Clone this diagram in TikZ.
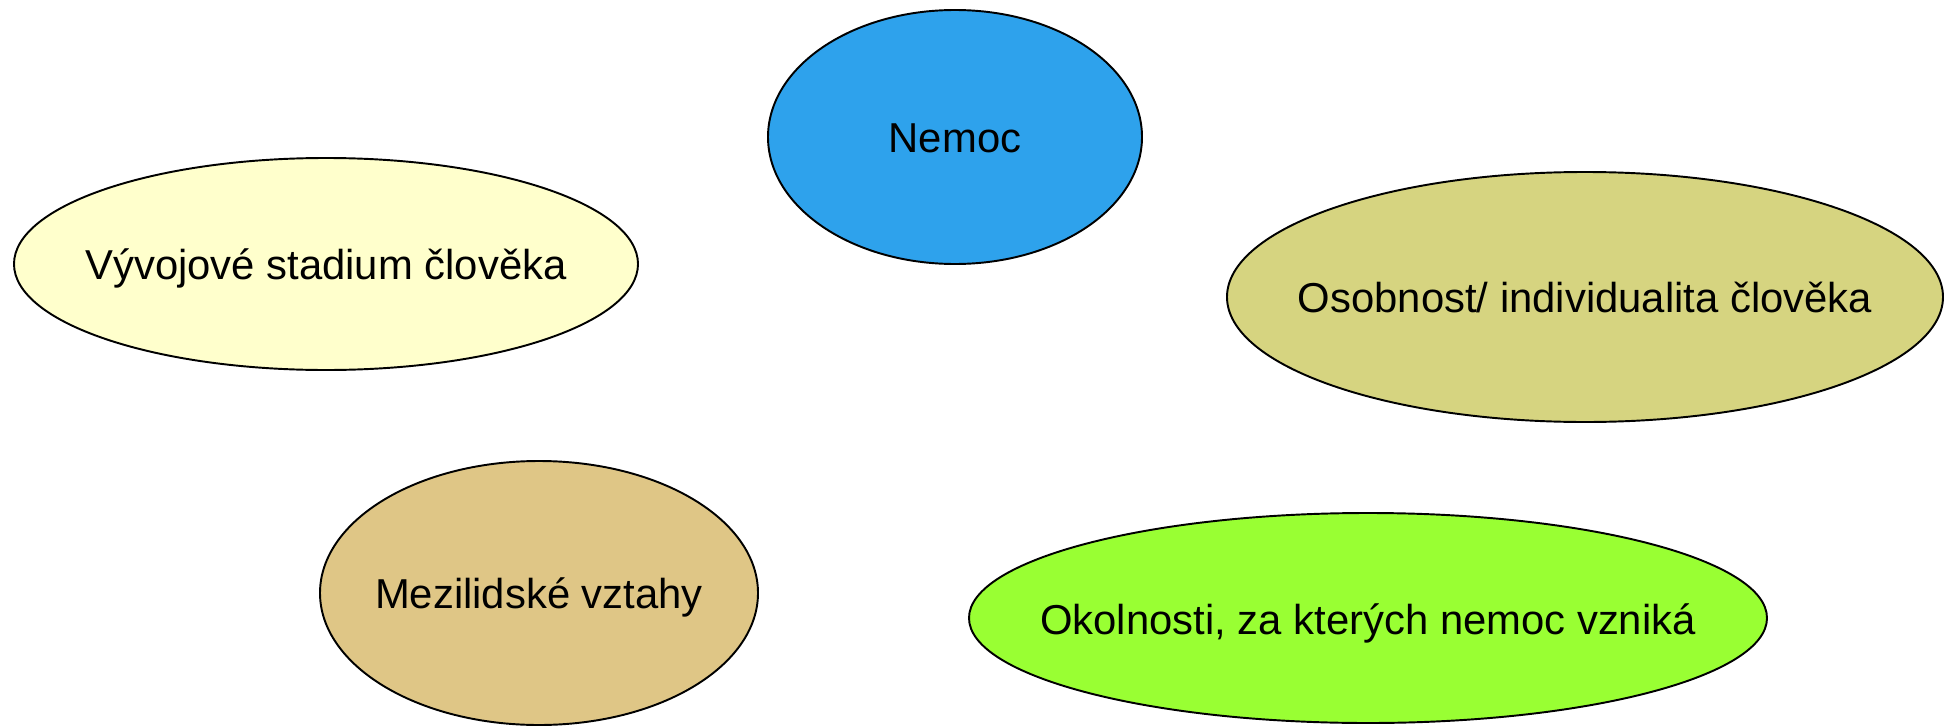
\documentclass[tikz,border=0pt]{standalone}
\usepackage{fontspec}
\setmainfont{Liberation Sans}
\definecolor{nemocblue}{RGB}{46,162,236}
\definecolor{stadiumyellow}{RGB}{255,255,204}
\definecolor{osobnostkhaki}{RGB}{214,212,128}
\definecolor{vztahytan}{RGB}{223,198,134}
\definecolor{okolnostigreen}{RGB}{153,255,51}
\begin{document}
\begin{tikzpicture}
    [ bubble/.style={draw=black,line width=1.1pt}
    , every node/.style={font=\fontsize{23.8}{28}\selectfont, inner sep=0pt, anchor=base}
    ]

    \useasboundingbox (0,0) rectangle (38.96,-14.52);

    \draw [bubble, fill=nemocblue]      (19.10,-2.74)  ellipse [x radius=3.74cm, y radius=2.54cm];
    \draw [bubble, fill=stadiumyellow]  (6.52,-5.28)   ellipse [x radius=6.24cm, y radius=2.12cm];
    \draw [bubble, fill=osobnostkhaki]  (31.70,-5.94)  ellipse [x radius=7.16cm, y radius=2.50cm];
    \draw [bubble, fill=vztahytan]      (10.78,-11.86) ellipse [x radius=4.38cm, y radius=2.64cm];
    \draw [bubble, fill=okolnostigreen] (27.36,-12.36) ellipse [x radius=7.98cm, y radius=2.10cm];

    % text sits on a baseline 0.3 below each centre
    \node (nemoc)     at (19.10,-3.04)  {Nemoc};
    \node (stadium)   at (6.52,-5.58)   {Vývojové stadium člověka};
    \node (osobnost)  at (31.70,-6.24)  {Osobnost/ individualita člověka};
    \node (vztahy)    at (10.78,-12.16) {Mezilidské vztahy};
    \node (okolnosti) at (27.36,-12.68) {Okolnosti, za kterých nemoc vzniká};
  \end{tikzpicture}
\end{document}
